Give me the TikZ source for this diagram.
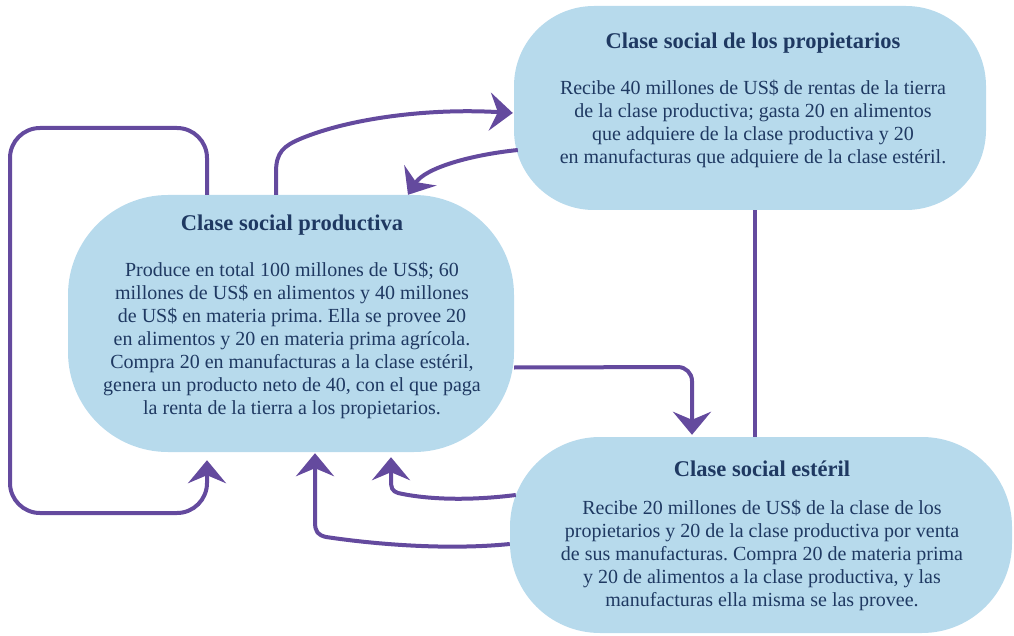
\documentclass[tikz,border=0pt]{standalone}
\usepackage{fontspec}
\setmainfont{Liberation Serif}
\usetikzlibrary{arrows.meta,calc}
\definecolor{boxfill}{HTML}{B7DAEC}
\definecolor{flow}{HTML}{644A9E}
\definecolor{ink}{HTML}{1F3962}
\tikzset{
  box/.style={fill=boxfill, draw=none, rectangle, inner sep=0pt},
  ttl/.style={text=ink, font=\fontsize{22.5}{24}\selectfont\bfseries, inner sep=0pt},
  body/.style={text=ink, font=\fontsize{20}{23}\selectfont\frenchspacing, align=center, inner sep=0pt},
  flowline/.style={draw=flow, line width=4pt},
  arr/.style={flowline, -{Stealth[length=23pt,width=38pt,inset=8pt]}},
}
\begin{document}
\begin{tikzpicture}[x=1pt,y=-1pt]
\useasboundingbox (0,0) rectangle (1014,636);
% boxes
\node[box, minimum width=472pt, minimum height=204pt, rounded corners=80pt] (prop) at (750,108) {};
\node[box, minimum width=446pt, minimum height=257pt, rounded corners=100pt] (prod) at (291,323.5) {};
\node[box, minimum width=502pt, minimum height=196pt, rounded corners=90pt] (ster) at (761,535) {};
% texts
\node[ttl] (propT) at (753,43) {Clase social de los propietarios};
\node[body, anchor=north] (propB) at (753,80) {Recibe 40 millones de US\$ de rentas de la tierra\\de la clase productiva; gasta 20 en alimentos\\que adquiere de la clase productiva y 20\\en manufacturas que adquiere de la clase estéril.};
\node[ttl] (prodT) at (292,225) {Clase social productiva};
\node[body, anchor=north] (prodB) at (292,262) {Produce en total 100 millones de US\$; 60\\millones de US\$ en alimentos y 40 millones\\de US\$ en materia prima. Ella se provee 20\\en alimentos y 20 en materia prima agrícola.\\Compra 20 en manufacturas a la clase estéril,\\genera un producto neto de 40, con el que paga\\la renta de la tierra a los propietarios.};
\node[ttl] (sterT) at (762,469) {Clase social estéril};
\node[body, anchor=north] (sterB) at (762,500) {Recibe 20 millones de US\$ de la clase de los\\propietarios y 20 de la clase productiva por venta\\de sus manufacturas. Compra 20 de materia prima\\y 20 de alimentos a la clase productiva, y las\\manufacturas ella misma se las provee.};
% connectors
\draw[arr, rounded corners=30pt] ($(prod.north)+(-84,0)$) -- (207,128) -- (10,128) -- (10,513) -- (207,513) -- ($(prod.south)+(-84,8)$);
\draw[arr] ($(prod.north)+(-15,0)$) -- (276,172) .. controls (276,152) and (284,146) .. (300,139) .. controls (350,118) and (430,108) .. ($(prop.west)+(-1,5)$);
\draw[arr] ($(prop.west)+(4,42)$) .. controls (470,155) and (425,168) .. ($(prod.north)+(117,0)$);
\draw[arr, rounded corners=14pt] ($(prod.east)+(0,44)$) -- (692,367) -- ($(ster.north)+(-69,-2)$);
\draw[flowline] ($(prop.south)+(5,0)$) -- ($(ster.north)+(-6,0)$);
\draw[arr] ($(ster.west)+(6,-40)$) .. controls (460,502) and (420,498) .. (398,493) .. controls (392,491) and (391,488) .. (391,480) -- ($(prod.south)+(100,5)$);
\draw[arr] ($(ster.west)+(0,9)$) .. controls (450,550) and (380,545) .. (326,537) .. controls (318,535) and (315,532) .. (315,522) -- ($(prod.south)+(24,1)$);
\end{tikzpicture}
\end{document}
